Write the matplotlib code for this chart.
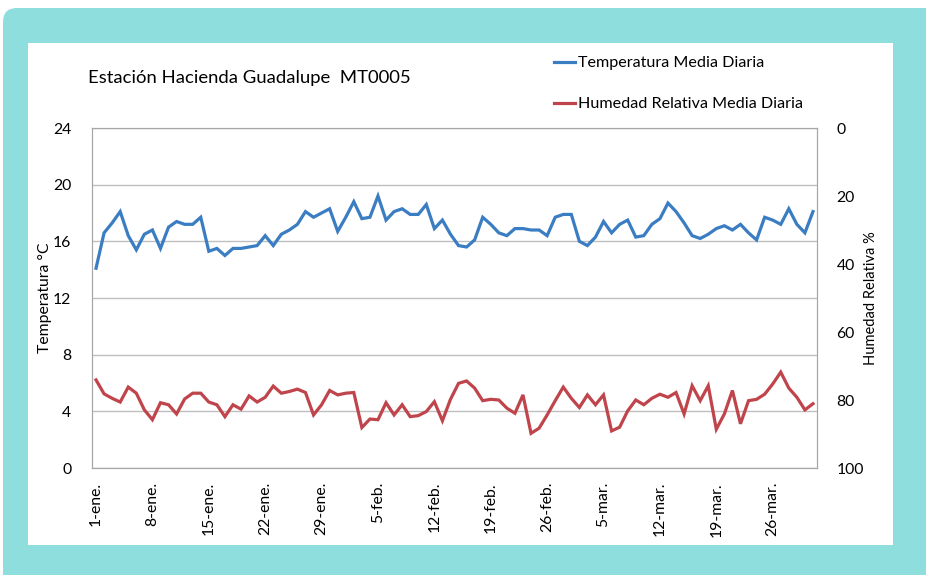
import numpy as np
import matplotlib
matplotlib.use('Agg')
import matplotlib.pyplot as plt
from matplotlib.patches import FancyBboxPatch, Rectangle

plt.rcParams['font.family'] = ['Lato', 'DejaVu Sans']

TITLE = 'Estación Hacienda Guadalupe  MT0005'
LABEL_T = 'Temperatura Media Diaria'
LABEL_H = 'Humedad Relativa Media Diaria'

# temperatura media diaria (°C), 1-ene .. 31-mar
temp = [14.1, 16.6, 17.3, 18.1, 16.4, 15.4, 16.5, 16.8, 15.5, 17.0,
        17.4, 17.2, 17.2, 17.7, 15.3, 15.5, 15.0, 15.5, 15.5, 15.6,
        15.7, 16.4, 15.7, 16.5, 16.8, 17.2, 18.1, 17.7, 18.0, 18.3,
        16.7, 17.7, 18.8, 17.6, 17.7, 19.2, 17.5, 18.1, 18.3, 17.9,
        17.9, 18.6, 16.9, 17.5, 16.5, 15.7, 15.6, 16.1, 17.7, 17.2,
        16.6, 16.4, 16.9, 16.9, 16.8, 16.8, 16.4, 17.7, 17.9, 17.9,
        16.0, 15.7, 16.3, 17.4, 16.6, 17.2, 17.5, 16.3, 16.4, 17.2,
        17.6, 18.7, 18.1, 17.3, 16.4, 16.2, 16.5, 16.9, 17.1, 16.8,
        17.2, 16.6, 16.1, 17.7, 17.5, 17.2, 18.3, 17.2, 16.6, 18.1]

# humedad relativa media diaria (%)
hum = [74.1, 78.2, 79.5, 80.6, 76.2, 78.0, 82.9, 85.8, 80.8, 81.4,
       84.1, 79.7, 78.0, 78.0, 80.6, 81.4, 84.9, 81.4, 82.7, 78.8,
       80.6, 79.2, 75.9, 78.0, 77.5, 76.8, 77.8, 84.4, 81.4, 77.2,
       78.5, 78.0, 77.8, 88.1, 85.6, 85.8, 80.8, 84.4, 81.4, 84.9,
       84.6, 83.4, 80.5, 86.1, 79.8, 75.1, 74.4, 76.5, 80.2, 79.8,
       80.0, 82.4, 83.9, 78.5, 89.8, 88.3, 84.4, 80.2, 76.2, 79.5,
       82.2, 78.5, 81.4, 78.5, 89.1, 88.0, 83.2, 80.0, 81.4, 79.5,
       78.3, 79.2, 77.8, 84.1, 75.8, 80.2, 75.8, 88.6, 84.1, 77.2,
       87.0, 80.2, 79.8, 78.3, 75.3, 71.8, 76.5, 79.2, 82.9, 81.1]

tick_labels = ['1-ene.', '8-ene.', '15-ene.', '22-ene.', '29-ene.', '5-feb.',
               '12-feb.', '19-feb.', '26-feb.', '5-mar.', '12-mar.', '19-mar.',
               '26-mar.']

W, H = 926, 575
fig = plt.figure(figsize=(W / 100, H / 100), dpi=100)
fig.patch.set_facecolor('white')

# marco turquesa con panel blanco
bg = fig.add_axes([0, 0, 1, 1], zorder=-5)
bg.set_xlim(0, W)
bg.set_ylim(H, 0)
bg.axis('off')
bg.add_patch(FancyBboxPatch((3, 8), W + 30, H + 30,
                            boxstyle='round,pad=0,rounding_size=14',
                            facecolor='#8FDEDE', edgecolor='none'))
bg.add_patch(Rectangle((28, 43), 865, 502, facecolor='white', edgecolor='none'))

ax = fig.add_axes([92 / W, 1 - 468 / H, (817 - 92) / W, (468 - 128) / H])
x = np.arange(len(temp))
grid_c = '#BFBFBF'

lt, = ax.plot(x, temp, color='#3A7DC2', lw=2.3, solid_joinstyle='miter')
ax.set_xlim(-0.5, len(temp) - 0.5)
ax.set_ylim(0, 24)
ax.set_yticks(range(0, 25, 4))
ax.yaxis.grid(True, color=grid_c, lw=1)
ax.set_axisbelow(True)
ax.set_xticks(x[::7])
ax.set_xticklabels(tick_labels, rotation=90, fontsize=11.3)
ax.tick_params(axis='both', length=0, labelsize=11.3, colors='black')
ax.tick_params(axis='x', pad=10)
ax.tick_params(axis='y', pad=15)
for s in ax.spines.values():
    s.set_color('#A6A6A6')
ax.set_ylabel('Temperatura °C', fontsize=11.3, labelpad=1)

ax2 = ax.twinx()
lh, = ax2.plot(x, hum, color='#C0444C', lw=2.3, solid_joinstyle='miter')
ax2.set_ylim(100, 0)
ax2.set_yticks(range(0, 101, 20))
ax2.tick_params(axis='y', length=0, labelsize=11.3, pad=14)
for s in ax2.spines.values():
    s.set_color('#A6A6A6')
ax2.set_ylabel('Humedad Relativa %', fontsize=10.5, labelpad=0)

fig.text(88 / W, 1 - 78 / H, TITLE, fontsize=13.3, va='center', ha='left')

fig.legend([lt, lh], [LABEL_T, LABEL_H], loc='upper left',
           bbox_to_anchor=(554 / W, 1 - 56 / H), frameon=False, fontsize=11.6,
           handlelength=1.3, handletextpad=0.2, labelspacing=1.65,
           borderpad=0, borderaxespad=0)

fig.savefig('out.png', dpi=100)
